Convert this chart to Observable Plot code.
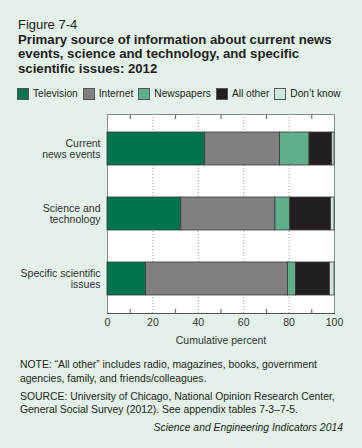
<!DOCTYPE html>
<html>
<head>
<meta charset="utf-8">
<script src="https://cdn.jsdelivr.net/npm/d3@7"></script>
<script src="https://cdn.jsdelivr.net/npm/@observablehq/plot@0.6"></script>
<style>
  html, body { margin: 0; padding: 0; }
  body { width: 362px; height: 448px; background: #e4f0ea; position: relative; overflow: hidden;
         font-family: "Liberation Sans", Arial, Helvetica, sans-serif; color: #231f20; }
  #title { position: absolute; left: 18px; top: 18px; width: 344px; line-height: 14.5px; white-space: nowrap; }
  #title .fig { font-size: 13px; }
  #title .main { font-size: 13.2px; font-weight: bold; }
  #legend { position: absolute; left: 17px; top: 88px; display: flex; align-items: center; font-size: 10.2px; line-height: 12px; }
  #legend .item { display: flex; align-items: center; margin-right: 5px; }
  #legend .sw { width: 12px; height: 12px; border: 0.75px solid #555; margin-right: 4px; box-sizing: border-box; }
  #chart { position: absolute; left: 0; top: 104px; }
  #notes { position: absolute; left: 20px; top: 358px; width: 325px; font-size: 10.4px; line-height: 13.5px; }
  #notes p { margin: 0 0 4.5px 0; }
  #notes .cite { font-style: italic; text-align: right; width: 323px; }
</style>
</head>
<body>
<div id="title">
  <div class="fig">Figure 7-4</div>
  <div class="main">Primary source of information about current news<br>events, science and technology, and specific<br>scientific issues: 2012</div>
</div>
<div id="legend"></div>
<div id="chart"></div>
<div id="notes">
  <p>NOTE: “All other” includes radio, magazines, books, government agencies, family, and friends/colleagues.</p>
  <p>SOURCE: University of Chicago, National Opinion Research Center, General Social Survey (2012). See appendix tables 7-3–7-5.</p>
  <p class="cite">Science and Engineering Indicators 2014</p>
</div>
<script>
const topics = ["Current\nnews events", "Science and\ntechnology", "Specific scientific\nissues"];
const sources = ["Television", "Internet", "Newspapers", "All other", "Don’t know"];
const colors = ["#00734f", "#808083", "#5fae8c", "#231f20", "#d0e8dc"];
const television = [43, 32.5, 17];
const internet = [33, 41.5, 62.5];
const newspapers = [13, 6.5, 3.5];
const allOther = [10, 18, 15];
const dontKnow = [1, 1.5, 2];
const xTicks = [0, 20, 40, 60, 80, 100];
const minorTicks = [10, 30, 50, 70, 90];
const gridTicks = [20, 40, 60, 80];

const seriesValues = [television, internet, newspapers, allOther, dontKnow];
const rows = [];
topics.forEach((t, i) => sources.forEach((s, j) => rows.push({topic: t, source: s, value: seriesValues[j][i]})));

// legend
const legend = document.getElementById("legend");
sources.forEach((s, j) => {
  const item = document.createElement("div");
  item.className = "item";
  const sw = document.createElement("div");
  sw.className = "sw";
  sw.style.background = colors[j];
  const lab = document.createElement("span");
  lab.textContent = s;
  item.appendChild(sw); item.appendChild(lab);
  legend.appendChild(item);
});

const chart = Plot.plot({
  width: 362,
  height: 243,
  marginLeft: 107,
  marginRight: 28,
  marginTop: 10,
  marginBottom: 34,
  style: {fontFamily: "Liberation Sans, Arial, sans-serif", fontSize: "10px", color: "#231f20", background: "transparent"},
  x: {domain: [0, 100]},
  y: {domain: topics, paddingInner: 0.5, paddingOuter: 0.26},
  color: {domain: sources, range: colors},
  marks: [
    Plot.frame({fill: "white", stroke: "#8a8a8a"}),
    Plot.gridX(gridTicks, {stroke: "#999", strokeOpacity: 1, strokeDasharray: "1,2"}),
    Plot.barX(rows, Plot.stackX({x: "value", y: "topic", fill: "source", order: sources, stroke: "#3a3a3a", strokeWidth: 0.8})),
    Plot.axisX(minorTicks, {anchor: "bottom", tickSize: -4, tickFormat: () => "", stroke: "#555", label: null}),
    Plot.axisX(minorTicks, {anchor: "top", tickSize: -4, tickFormat: () => "", stroke: "#555", label: null}),
    Plot.axisX(xTicks, {anchor: "bottom", tickSize: 0, tickPadding: 5, fontSize: 10.5, fill: "#333", label: "Cumulative percent", labelAnchor: "center", labelArrow: "none", labelOffset: 30}),
    Plot.axisY({tickSize: 0, tickPadding: 7, fontSize: 10.5, fill: "#333", label: null, lineHeight: 1}),
    Plot.frame({anchor: "bottom", stroke: "#555"})
  ]
});
document.getElementById("chart").appendChild(chart);
</script>
</body>
</html>
